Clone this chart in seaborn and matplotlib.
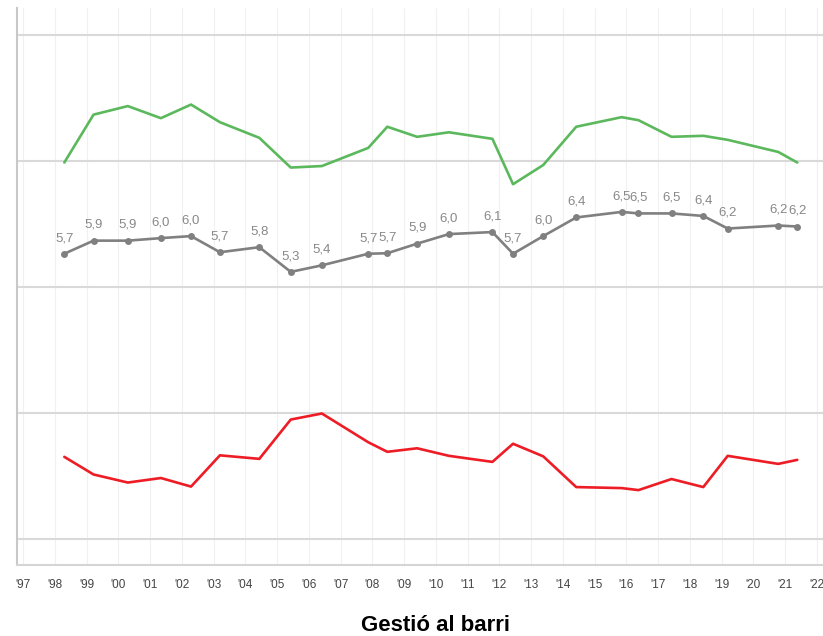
import pandas as pd
import numpy as np
import matplotlib
matplotlib.use('Agg')
import matplotlib.pyplot as plt
import seaborn as sns

# Dates of each survey (fractional years)
dates = [1998.30, 1999.22, 2000.30, 2001.34, 2002.29, 2003.20, 2004.44, 2005.43,
         2006.41, 2007.87, 2008.47, 2009.41, 2010.41, 2011.78, 2012.43, 2013.38,
         2014.42, 2015.85, 2016.38, 2017.42, 2018.42, 2019.19, 2020.78, 2021.38]

# Mean score (gray, labelled)
nota = [5.66, 5.92, 5.92, 5.97, 6.01, 5.69, 5.79, 5.30, 5.43, 5.66, 5.67, 5.86,
        6.05, 6.09, 5.66, 6.01, 6.38, 6.49, 6.46, 6.46, 6.41, 6.16, 6.22, 6.20]

# Positive share (green) and negative share (red), same scale
positiu = [7.47, 8.42, 8.59, 8.35, 8.62, 8.27, 7.96, 7.37, 7.40, 7.76, 8.18, 7.98,
           8.07, 7.94, 7.04, 7.42, 8.18, 8.37, 8.31, 7.98, 8.00, 7.92, 7.68, 7.47]
negatiu = [1.63, 1.28, 1.12, 1.21, 1.04, 1.66, 1.59, 2.37, 2.49, 1.92, 1.73, 1.80,
           1.65, 1.53, 1.89, 1.64, 1.03, 1.01, 0.97, 1.19, 1.03, 1.65, 1.49, 1.57]

years = list(range(1997, 2023))
year_labels = ["'" + str(y)[-2:] for y in years]

df = pd.DataFrame({'data': dates, 'nota': nota, 'positiu': positiu, 'negatiu': negatiu})

sns.set_style('white')
plt.rcParams['font.family'] = ['Liberation Sans', 'DejaVu Sans']

fig = plt.figure(figsize=(8.23, 6.36), dpi=100)
ax = fig.add_axes([17/823, 1 - 565/636, 1 - 17/823, (565 - 8)/636])

sns.lineplot(data=df, x='data', y='positiu', ax=ax, color='#5cb85c', linewidth=1.9)
sns.lineplot(data=df, x='data', y='negatiu', ax=ax, color='#ee1c25', linewidth=1.9)
sns.lineplot(data=df, x='data', y='nota', ax=ax, color='#808080', linewidth=1.9,
             marker='o', markersize=5, markeredgewidth=0)

for xv, yv in zip(df['data'], df['nota']):
    ax.annotate(f'{yv:.1f}'.replace('.', ','), (xv, yv), xytext=(0, 7),
                textcoords='offset points', ha='center', va='bottom',
                fontsize=9.5, color='#888888')

ax.set_xlim(1996.81, 2022.19)
ax.set_ylim(-0.516, 10.536)
ax.set_xticks(years)
ax.set_xticklabels(year_labels, fontsize=8.5, color='#444444')
ax.set_yticks([0, 2.5, 5, 7.5, 10])
ax.set_yticklabels([])
ax.tick_params(axis='both', length=0, pad=10)
ax.tick_params(axis='y', pad=0)
ax.grid(axis='y', color='#d9d9d9', linewidth=1.5)
ax.grid(axis='x', color='#f0f0f0', linewidth=0.8)
ax.set_axisbelow(True)
ax.set_xlabel('')
ax.set_ylabel('')
for s in ['top', 'right']:
    ax.spines[s].set_visible(False)
ax.spines['left'].set_color('#c8c8c8')
ax.spines['left'].set_linewidth(1.5)
ax.spines['bottom'].set_color('#d5d5d5')
ax.spines['bottom'].set_linewidth(1.5)

fig.text(436/823, 1 - 631/636, 'Gestió al barri', ha='center', va='baseline',
         fontsize=16, fontweight='bold', color='#000000')

fig.savefig('out.png', dpi=100)
